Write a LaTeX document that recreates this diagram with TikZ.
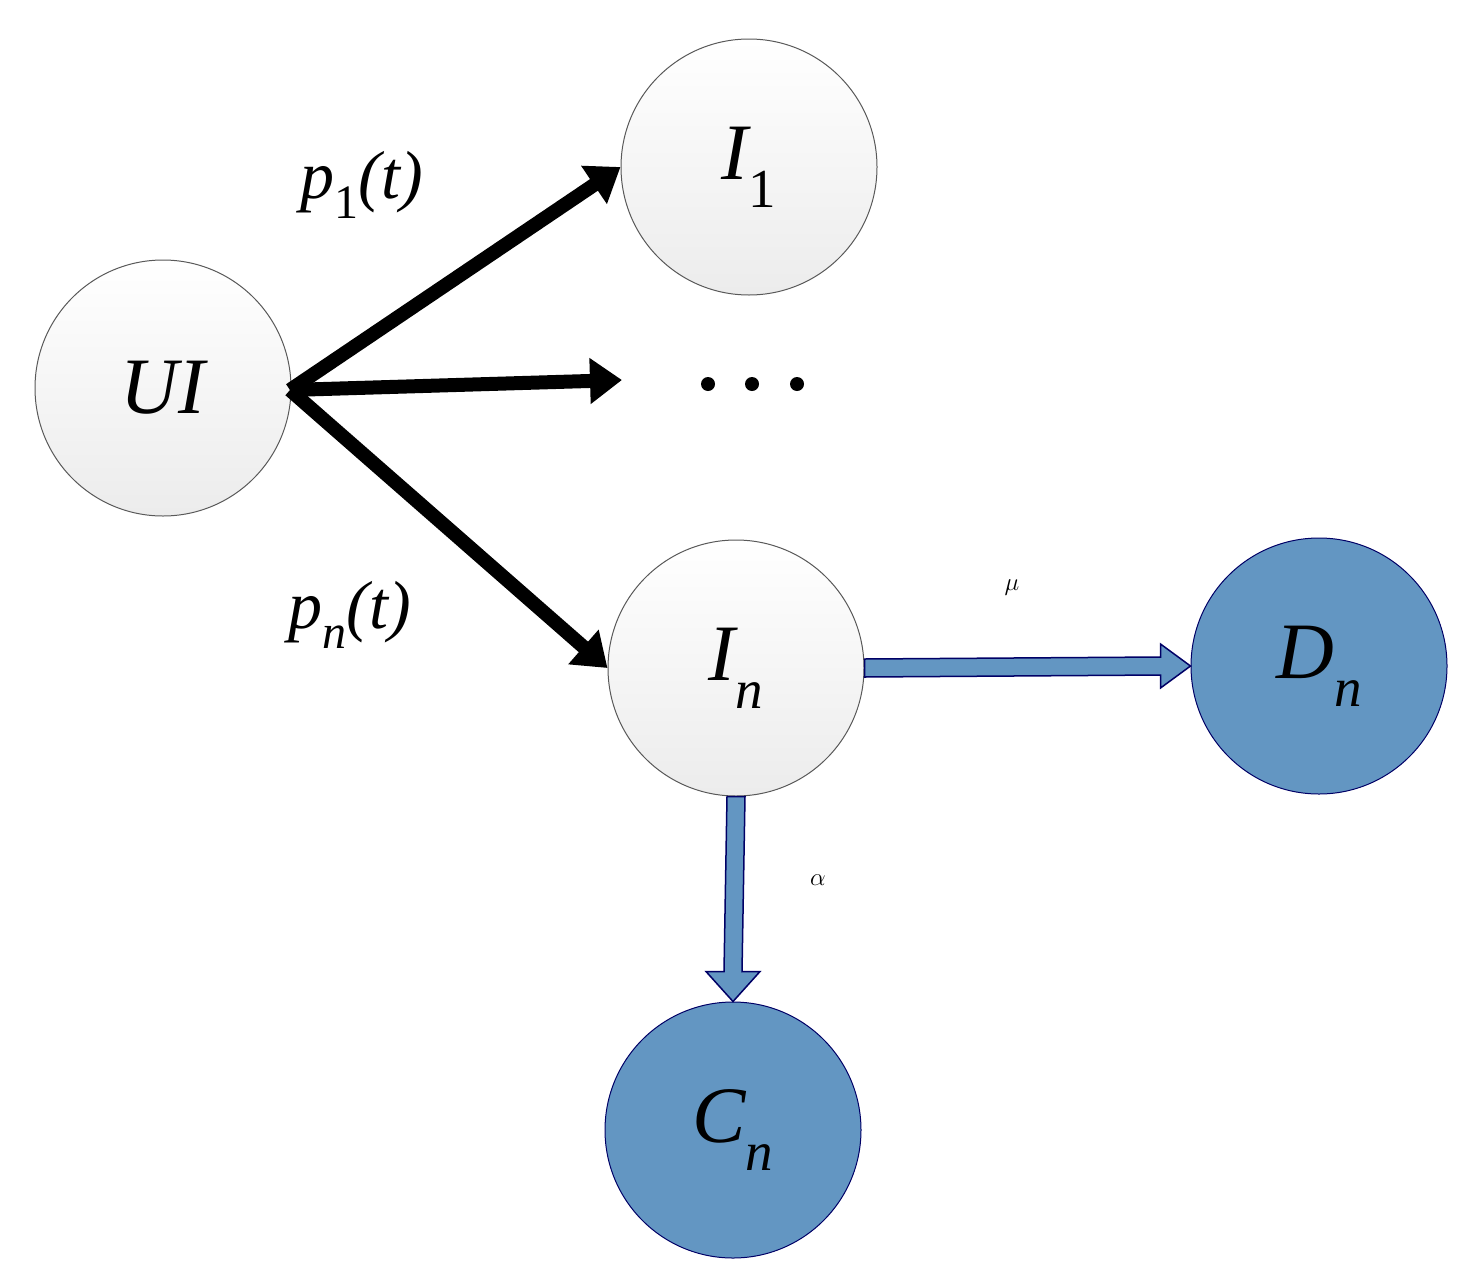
\documentclass[tikz,border=0pt]{standalone}
\usepackage{fontspec}
\setmainfont{Liberation Serif}
\usetikzlibrary{calc,arrows.meta}
\begin{document}
\begin{tikzpicture}[x=1pt,y=-1pt,
 gnode/.style={circle,minimum size=256pt,inner sep=0pt,draw=gray!70!black,line width=1pt,top color=white,bottom color=gray!15,font=\fontsize{80}{80}\selectfont\itshape},
 bnode/.style={circle,minimum size=256pt,inner sep=0pt,draw=blue!40!black,line width=1pt,fill=myblue,font=\fontsize{80}{80}\selectfont\itshape},
 barrow/.style={line width=14pt,-{Triangle[length=32pt,width=44pt]}},
 lbl/.style={font=\fontsize{68}{68}\selectfont\itshape},
 blk/.style={fill=myblue,draw=blue!40!black,line width=1.5pt,line join=miter}]
\definecolor{myblue}{HTML}{6396C2}
\useasboundingbox (0,0) rectangle (1480,1285);
\node[gnode] (UI) at (163,388) {UI};
\node[gnode] (I1) at (749,167) {I\raisebox{-0.35em}{\fontsize{55}{55}\selectfont\upshape 1}};
\node[gnode] (In) at (736,668) {I\raisebox{-0.35em}{\fontsize{55}{55}\selectfont n}};
\node[bnode] (Dn) at (1319,666) {D\raisebox{-0.35em}{\fontsize{55}{55}\selectfont n}};
\node[bnode] (Cn) at (733,1130) {C\raisebox{-0.35em}{\fontsize{55}{55}\selectfont n}};
\coordinate (src) at (290,390);
\coordinate (dots) at (622,380);
\draw[barrow] (src) -- (I1.west);
\draw[barrow] (src) -- (dots);
\draw[barrow] (src) -- (In.west);
\foreach \x in {708,752,797} \fill (\x,384) circle (7);
\node[lbl] (p1) at (362,185) {p\raisebox{-0.3em}{\fontsize{48}{48}\selectfont\upshape 1}(t)};
\node[lbl] (pn) at (350,615) {p\raisebox{-0.3em}{\fontsize{48}{48}\selectfont n}(t)};
\node[lbl] (mu) at (1012,588) {$\mu$};
\node[lbl] (al) at (818,880) {$\alpha$};
\path[blk] ($(In.east)+(0,-9)$) -- ($(Dn.west)+(-30,-9)$) -- ($(Dn.west)+(-30,-22)$) -- (Dn.west) -- ($(Dn.west)+(-30,22)$) -- ($(Dn.west)+(-30,9)$) -- ($(In.east)+(0,9)$) -- cycle;
\path[blk] ($(In.south)+(-9,0)$) -- ($(Cn.north)+(-9,-30)$) -- ($(Cn.north)+(-27,-30)$) -- (Cn.north) -- ($(Cn.north)+(27,-30)$) -- ($(Cn.north)+(9,-30)$) -- ($(In.south)+(9,0)$) -- cycle;
\end{tikzpicture}
\end{document}
